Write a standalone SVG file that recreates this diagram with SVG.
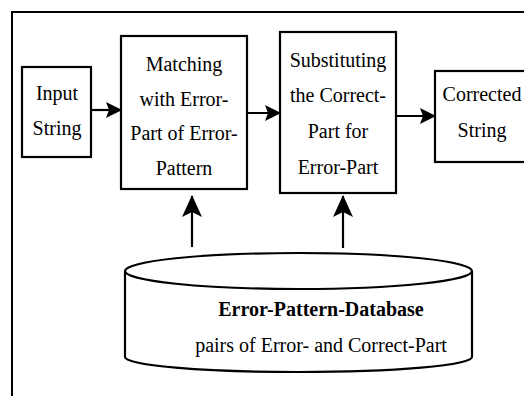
<svg xmlns="http://www.w3.org/2000/svg" width="524" height="396" viewBox="0 0 524 396">
  <defs>
    <style>
      .box { fill: #fff; stroke: #000; stroke-width: 2.2; }
      .frame { fill: none; stroke: #000; stroke-width: 2; }
      .wire { fill: none; stroke: #000; stroke-width: 2.2; }
      .lbl { font-family: "Liberation Serif", "Times New Roman", serif; font-size: 20px; fill: #000; text-anchor: middle; }
      .bold { font-weight: bold; }
    </style>
    <marker id="head" viewBox="0 0 16 16" refX="15" refY="8" markerWidth="16" markerHeight="16" markerUnits="userSpaceOnUse" orient="auto">
      <path d="M0,0 L16,8 L0,16 L3,8 Z" fill="#000"/>
    </marker>
    <marker id="headUp" viewBox="0 0 22 20" refX="21" refY="10" markerWidth="22" markerHeight="20" markerUnits="userSpaceOnUse" orient="auto">
      <path d="M0,0 L22,10 L0,20 L5,10 Z" fill="#000"/>
    </marker>
  </defs>

  <rect x="0" y="0" width="524" height="396" fill="#fff"/>

  <!-- outer frame, running past the right and bottom edges -->
  <rect class="frame" x="12" y="12" width="530" height="400"/>

  <!-- connectors -->
  <g id="connectors">
    <line class="wire" x1="91" y1="110" x2="121" y2="110" marker-end="url(#head)"/>
    <line class="wire" x1="247" y1="113" x2="280" y2="113" marker-end="url(#head)"/>
    <line class="wire" x1="396" y1="116" x2="435" y2="116" marker-end="url(#head)"/>
    <line class="wire" x1="192" y1="247" x2="192" y2="196" marker-end="url(#headUp)"/>
    <line class="wire" x1="343" y1="248" x2="343" y2="196" marker-end="url(#headUp)"/>
  </g>

  <g id="input-string">
    <rect class="box" x="22" y="67" width="69" height="90"/>
    <text class="lbl" x="57" y="100">Input</text>
    <text class="lbl" x="57" y="135">String</text>
  </g>

  <g id="matching">
    <rect class="box" x="121" y="36" width="126" height="153"/>
    <text class="lbl" x="184" y="71">Matching</text>
    <text class="lbl" x="184" y="106">with Error-</text>
    <text class="lbl" x="184" y="140">Part of Error-</text>
    <text class="lbl" x="184" y="175">Pattern</text>
  </g>

  <g id="substituting">
    <rect class="box" x="280" y="32" width="116" height="161"/>
    <text class="lbl" x="338" y="67">Substituting</text>
    <text class="lbl" x="338" y="102">the Correct-</text>
    <text class="lbl" x="338" y="138">Part for</text>
    <text class="lbl" x="338" y="174">Error-Part</text>
  </g>

  <g id="corrected-string">
    <rect class="box" x="435" y="71" width="94" height="91"/>
    <text class="lbl" x="482" y="101">Corrected</text>
    <text class="lbl" x="482" y="137">String</text>
  </g>

  <g id="database">
    <path class="box" d="M125,271 L125,357 A173.5,15 0 0 0 472,357 L472,271"/>
    <ellipse class="box" cx="298.5" cy="271" rx="173.5" ry="18"/>
    <text class="lbl bold" x="321" y="316">Error-Pattern-Database</text>
    <text class="lbl" x="321" y="352">pairs of Error- and Correct-Part</text>
  </g>
</svg>
